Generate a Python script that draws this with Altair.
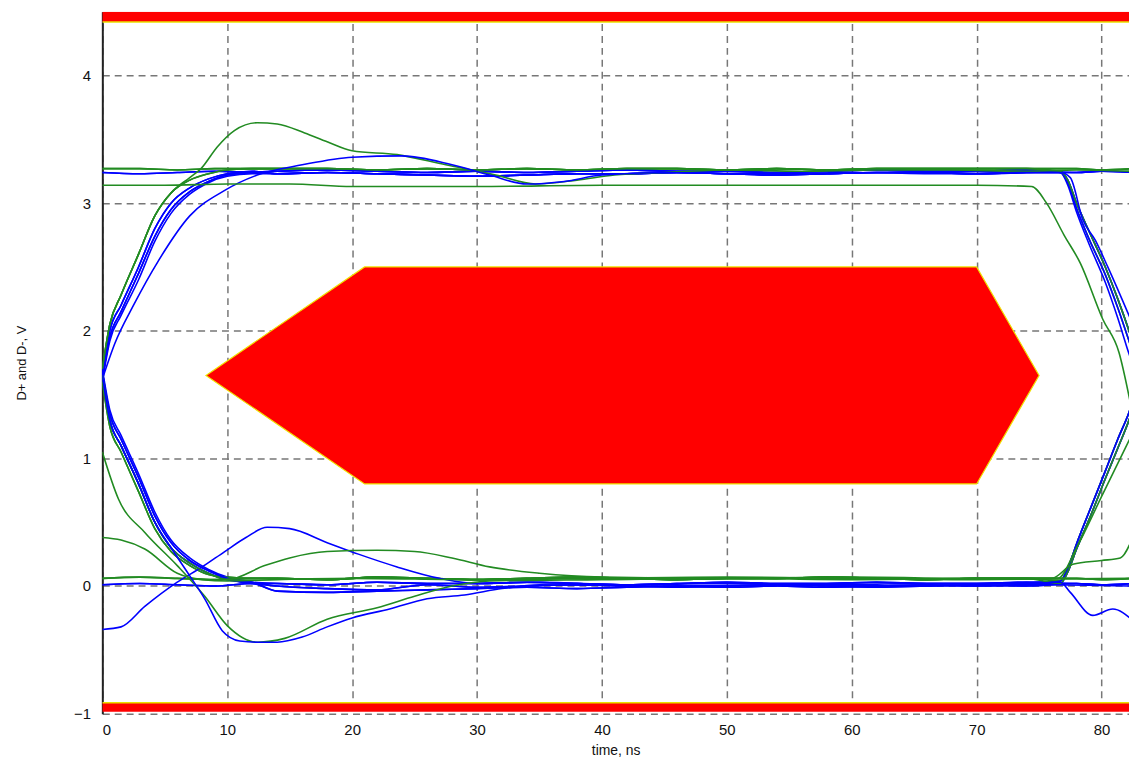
import altair as alt
import pandas as pd

# ---------------- data ----------------
BLUE, GREEN = "blue", "green"

# rising / falling edges at t = 0
R0_T = [0, 0.6, 1.5, 2.9, 4.2, 5.5, 7, 8.5, 10, 12]
R0A_V = [1.65, 2.00, 2.20, 2.50, 2.80, 3.00, 3.12, 3.19, 3.23, 3.25]
R0B_V = [1.62, 1.95, 2.15, 2.45, 2.74, 2.95, 3.09, 3.17, 3.22, 3.24]
R0C_V = [1.60, 1.92, 2.12, 2.40, 2.70, 2.92, 3.07, 3.16, 3.21, 3.23]
R0G_V = [1.70, 2.05, 2.28, 2.60, 2.90, 3.08, 3.18, 3.23, 3.26, 3.27]
F0A_V = [1.65, 1.30, 1.10, 0.80, 0.50, 0.30, 0.18, 0.10, 0.05, 0.03]
F0B_V = [1.68, 1.35, 1.15, 0.85, 0.55, 0.34, 0.20, 0.12, 0.06, 0.02]
F0C_V = [1.70, 1.38, 1.18, 0.88, 0.58, 0.36, 0.22, 0.13, 0.07, 0.03]
F0G_V = [1.60, 1.25, 1.05, 0.74, 0.45, 0.27, 0.16, 0.09, 0.07, 0.06]

# flat parts
START_T = [0, 3, 6, 9, 12]
HS1_V = [3.24, 3.23, 3.24, 3.25, 3.24]
HS2_V = [3.27, 3.27, 3.26, 3.27, 3.27]
LS1_V = [0.01, 0.02, 0.01, 0.00, 0.02]
LS2_V = [0.06, 0.07, 0.06, 0.05, 0.06]

HI_T = [14, 18, 22, 26, 30, 34, 38, 42, 46, 50, 54, 58, 62, 66, 70, 74]
HI1_V = [3.25, 3.26, 3.25, 3.24, 3.25, 3.24, 3.25, 3.26, 3.25, 3.25, 3.24, 3.25, 3.26, 3.25, 3.25, 3.26]
HI2_V = [3.23, 3.24, 3.23, 3.22, 3.21, 3.22, 3.23, 3.23, 3.24, 3.23, 3.22, 3.23, 3.24, 3.24, 3.23, 3.24]
HI3_V = [3.27, 3.27, 3.26, 3.27, 3.26, 3.27, 3.26, 3.27, 3.27, 3.26, 3.27, 3.26, 3.27, 3.27, 3.27, 3.27]
LO1_V = [0.02, 0.01, 0.03, 0.02, 0.02, 0.03, 0.02, 0.01, 0.02, 0.03, 0.02, 0.02, 0.03, 0.02, 0.02, 0.03]
LO2_V = [0.00, -0.02, -0.03, 0.01, -0.01, 0.00, 0.01, 0.00, -0.01, 0.00, 0.01, 0.00, -0.01, 0.00, 0.01, 0.00]
LO3_V = [0.06, 0.05, 0.07, 0.06, 0.05, 0.06, 0.07, 0.06, 0.05, 0.06, 0.06, 0.07, 0.06, 0.05, 0.06, 0.06]
LO4_V = [-0.04, -0.05, -0.04, -0.03, -0.02, -0.01, -0.02, -0.01, 0.00, -0.01, 0.00, -0.01, 0.00, 0.01, 0.00, 0.01]

END_T = [78, 80, 82.5]
HE1_V = [3.24, 3.25, 3.24]
HE2_V = [3.27, 3.26, 3.27]
LE1_V = [0.02, 0.01, 0.02]
LE2_V = [0.06, 0.05, 0.06]

# edges at the right side
F1_T = [76.7, 77.3, 78, 79, 80.3, 81.3, 82.2, 83]
F1A_V = [3.25, 3.18, 3.00, 2.78, 2.50, 2.25, 2.00, 1.75]
F1B_V = [3.24, 3.16, 2.96, 2.72, 2.44, 2.18, 1.92, 1.68]
F1C_V = [3.24, 3.14, 2.93, 2.68, 2.38, 2.10, 1.82, 1.60]
R1A_V = [0.04, 0.14, 0.33, 0.58, 0.90, 1.15, 1.36, 1.60]
R1B_V = [0.02, 0.11, 0.29, 0.52, 0.84, 1.08, 1.30, 1.55]

# single outlying traces
OV_G_T = [0, 0.6, 1.5, 2.9, 4.2, 5.5, 7, 7.9, 9.2, 10.6, 12.4, 14, 16.2, 18, 20, 23.6, 27.5,
          31.5, 34.7, 38, 41, 45, 50, 56, 62, 68, 74, 78, 82.5]
OV_G_V = [1.70, 2.05, 2.28, 2.60, 2.90, 3.08, 3.20, 3.27, 3.44, 3.57, 3.63, 3.62, 3.55, 3.48,
          3.41, 3.38, 3.30, 3.22, 3.15, 3.18, 3.22, 3.24, 3.26, 3.25, 3.26, 3.26, 3.25, 3.26, 3.25]
SLOW_B_T = [0, 1, 2.5, 4.5, 7, 9.8, 12.4, 16, 20, 24, 28, 31, 34, 37, 40, 45, 52, 60, 68, 74,
            76.7, 77.5, 78.5, 79.5, 80.5, 82.5]
SLOW_B_V = [1.62, 1.90, 2.20, 2.55, 2.90, 3.10, 3.22, 3.30, 3.36, 3.37, 3.30, 3.22, 3.15, 3.17,
            3.22, 3.24, 3.23, 3.24, 3.23, 3.24, 3.24, 3.20, 2.87, 2.71, 2.50, 2.05]
FLAT_G_T = [0, 5, 10, 15, 20, 30, 40, 50, 60, 70, 74.4, 75.6, 77, 78.3, 80.1, 81.4, 82.3]
FLAT_G_V = [3.14, 3.14, 3.15, 3.15, 3.13, 3.13, 3.14, 3.14, 3.14, 3.14, 3.13, 3.00, 2.75,
            2.53, 2.09, 1.83, 1.44]
BUMP_B_T = [0, 1.5, 3.4, 6, 8, 9.8, 11.5, 13.2, 15, 18, 20.5, 23.6, 27, 30, 35, 42, 50, 58,
            66, 74, 76.7, 77.5, 79.3, 80.9, 82.5]
BUMP_B_V = [-0.34, -0.32, -0.16, 0.03, 0.15, 0.27, 0.38, 0.46, 0.45, 0.34, 0.25, 0.15, 0.06,
            0.02, 0.03, 0.01, 0.02, 0.01, 0.02, 0.02, 0.03, -0.05, -0.23, -0.18, -0.27]
BUMP_G_T = [0, 0.6, 1.5, 2.9, 4.2, 5.5, 7, 8.5, 10, 13, 15, 18, 22, 25, 28, 31, 35, 40, 50,
            60, 70, 76, 77.7, 80, 81.5, 82.5]
BUMP_G_V = [1.65, 1.30, 1.10, 0.80, 0.50, 0.30, 0.18, 0.10, 0.05, 0.16, 0.22, 0.27, 0.28, 0.27,
            0.22, 0.15, 0.10, 0.07, 0.06, 0.07, 0.06, 0.06, 0.17, 0.20, 0.22, 0.38]
HIGHSTART_G_T = [0, 1.5, 3.4, 6, 8, 10, 14, 20, 30, 40, 50, 60, 70, 82.5]
HIGHSTART_G_V = [0.38, 0.36, 0.29, 0.10, 0.05, 0.04, 0.05, 0.06, 0.05, 0.06, 0.07, 0.06, 0.05, 0.06]
UNDER_G_T = [0, 1.3, 3.4, 6, 8.2, 10, 12.4, 14.6, 18, 22, 25, 28, 31, 40, 50, 60, 70, 76.5,
             78, 80, 82.5]
UNDER_G_V = [1.05, 0.68, 0.42, 0.16, -0.08, -0.31, -0.44, -0.41, -0.26, -0.17, -0.08, 0.00, 0.04,
             0.05, 0.06, 0.05, 0.06, 0.06, 0.30, 0.70, 1.20]
UNDER_B_T = [0, 0.6, 1.5, 2.9, 4.2, 5.5, 7, 8.2, 9.6, 11, 12.5, 14, 16, 18, 20, 23, 26, 29, 32,
             35, 45, 55, 65, 75, 82.5]
UNDER_B_V = [1.65, 1.30, 1.10, 0.80, 0.50, 0.30, 0.08, -0.10, -0.35, -0.43, -0.44, -0.44, -0.40,
             -0.32, -0.25, -0.18, -0.10, -0.07, -0.02, 0.01, 0.00, 0.01, 0.00, 0.01, 0.00]

# mask (eye opening and limits)
MASK_X = [8.3, 21, 70, 75]
MASK_TOP = [1.65, 2.5, 2.5, 1.65]
MASK_BOTTOM = [1.65, 0.8, 0.8, 1.65]
BAND_X = [0, 82.2]
TOP_BAND = [4.42, 4.5]
BOTTOM_BAND = [-0.985, -0.915]

X_TICKS = [0, 10, 20, 30, 40, 50, 60, 70, 80]
Y_TICKS = [-1, 0, 1, 2, 3, 4]

# ---------------- build traces ----------------
traces = [
    (BLUE, [(R0_T, R0A_V), (HI_T, HI2_V), (F1_T, F1A_V)]),
    (GREEN, [(R0_T, R0G_V), (HI_T, HI3_V), (F1_T, F1B_V)]),
    (BLUE, [(R0_T, R0B_V), (HI_T, HI1_V), (F1_T, F1B_V)]),
    (BLUE, [(R0_T, R0C_V), (HI_T, HI2_V), (F1_T, F1C_V)]),
    (BLUE, [(R0_T, R0A_V), (HI_T, HI2_V), (END_T, HE1_V)]),
    (GREEN, [(START_T, HS2_V), (HI_T, HI3_V), (END_T, HE2_V)]),
    (BLUE, [(START_T, HS1_V), (HI_T, HI1_V), (F1_T, F1A_V)]),
    (BLUE, [(START_T, HS1_V), (HI_T, HI2_V), (END_T, HE1_V)]),
    (GREEN, [(R0_T, R0G_V), (HI_T, HI3_V), (END_T, HE2_V)]),
    (BLUE, [(R0_T, R0B_V), (HI_T, HI1_V), (END_T, HE1_V)]),
    (GREEN, [(START_T, HS2_V), (HI_T, HI3_V), (F1_T, F1A_V)]),
    (BLUE, [(R0_T, F0A_V), (HI_T, LO1_V), (F1_T, R1A_V)]),
    (GREEN, [(R0_T, F0G_V), (HI_T, LO3_V), (F1_T, R1A_V)]),
    (BLUE, [(R0_T, F0B_V), (HI_T, LO2_V), (F1_T, R1B_V)]),
    (BLUE, [(R0_T, F0C_V), (HI_T, LO4_V), (F1_T, R1A_V)]),
    (BLUE, [(R0_T, F0A_V), (HI_T, LO2_V), (END_T, LE1_V)]),
    (GREEN, [(START_T, LS2_V), (HI_T, LO3_V), (END_T, LE2_V)]),
    (BLUE, [(START_T, LS1_V), (HI_T, LO1_V), (F1_T, R1B_V)]),
    (BLUE, [(START_T, LS1_V), (HI_T, LO4_V), (END_T, LE1_V)]),
    (GREEN, [(R0_T, F0G_V), (HI_T, LO3_V), (END_T, LE2_V)]),
    (BLUE, [(R0_T, F0B_V), (HI_T, LO1_V), (END_T, LE1_V)]),
    (GREEN, [(START_T, LS2_V), (HI_T, LO3_V), (F1_T, R1B_V)]),
    (GREEN, [(OV_G_T, OV_G_V)]),
    (BLUE, [(SLOW_B_T, SLOW_B_V)]),
    (GREEN, [(FLAT_G_T, FLAT_G_V)]),
    (BLUE, [(BUMP_B_T, BUMP_B_V)]),
    (GREEN, [(BUMP_G_T, BUMP_G_V)]),
    (GREEN, [(HIGHSTART_G_T, HIGHSTART_G_V)]),
    (GREEN, [(UNDER_G_T, UNDER_G_V)]),
    (BLUE, [(UNDER_B_T, UNDER_B_V)]),
]

rows = []
for i, (col, segs) in enumerate(traces):
    k = 0
    for ts, vs in segs:
        for t, v in zip(ts, vs):
            rows.append({"trace": f"tr{i:02d}", "color": col, "t": t, "v": v, "k": k})
            k += 1
df = pd.DataFrame(rows)

mask_df = pd.DataFrame({"x": MASK_X, "top": MASK_TOP, "bottom": MASK_BOTTOM})
band_df = pd.DataFrame({
    "x": [BAND_X[0], BAND_X[0]], "x2": [BAND_X[1], BAND_X[1]],
    "y": [TOP_BAND[0], BOTTOM_BAND[0]], "y2": [TOP_BAND[1], BOTTOM_BAND[1]],
    "edge": [TOP_BAND[0], BOTTOM_BAND[1]],
})

FONT = "Liberation Sans"
xs = alt.Scale(domain=[0, 82.2], nice=False, zero=False)
ys = alt.Scale(domain=[-1, 4.5], nice=False, zero=False)

x_axis = alt.Axis(values=X_TICKS, format="d", title="time, ns", grid=True, ticks=False,
                  domain=False, labelPadding=9, labelFontSize=15, titleFontSize=14,
                  titleFontWeight="normal", titleY=37, titleBaseline="middle",
                  labelColor="#111", titleColor="#111", labelFont=FONT, titleFont=FONT,
                  gridColor="#777777", gridDash=[7, 5], gridWidth=1.5, gridOpacity=1)
y_axis = alt.Axis(values=Y_TICKS, format="d", title="D+ and D-, V", grid=True, ticks=False,
                  domain=True, domainColor="#222", domainWidth=2, labelPadding=12,
                  labelFontSize=15, titleFontSize=13, titleFontWeight="normal", titleX=-81,
                  titleBaseline="middle", labelColor="#111", titleColor="#111",
                  labelFont=FONT, titleFont=FONT,
                  gridColor="#777777", gridDash=[7, 5], gridWidth=1.5, gridOpacity=1)

lines = alt.Chart(df).mark_line(clip=True, strokeWidth=1.6, interpolate="monotone").encode(
    x=alt.X("t:Q", scale=xs, axis=x_axis),
    y=alt.Y("v:Q", scale=ys, axis=y_axis),
    detail="trace:N",
    order="k:Q",
    color=alt.Color("color:N", scale=alt.Scale(domain=[BLUE, GREEN], range=["#0000ff", "#228b22"]),
                    legend=None),
)

mask = alt.Chart(mask_df).mark_area(color="#ff0000", stroke="#f0e000", strokeWidth=1.2,
                                    opacity=1).encode(
    x=alt.X("x:Q", scale=xs),
    y=alt.Y("top:Q", scale=ys),
    y2="bottom:Q",
)

bands = alt.Chart(band_df).mark_rect(color="#ff0000", clip=True).encode(
    x=alt.X("x:Q", scale=xs), x2="x2:Q",
    y=alt.Y("y:Q", scale=ys), y2="y2:Q",
)
band_edges = alt.Chart(band_df).mark_rule(color="#e8e000", strokeWidth=1.5, clip=True).encode(
    x=alt.X("x:Q", scale=xs), x2="x2:Q",
    y=alt.Y("edge:Q", scale=ys),
)

chart = alt.layer(lines, mask, bands, band_edges).properties(
    width=1034, height=707,
    padding={"left": 95, "top": 1, "right": 0, "bottom": 50},
    autosize=alt.AutoSizeParams(type="none"),
    background="white",
).configure_view(stroke=None)

chart.save("out.html", embed_options={"renderer": "svg", "actions": False})
